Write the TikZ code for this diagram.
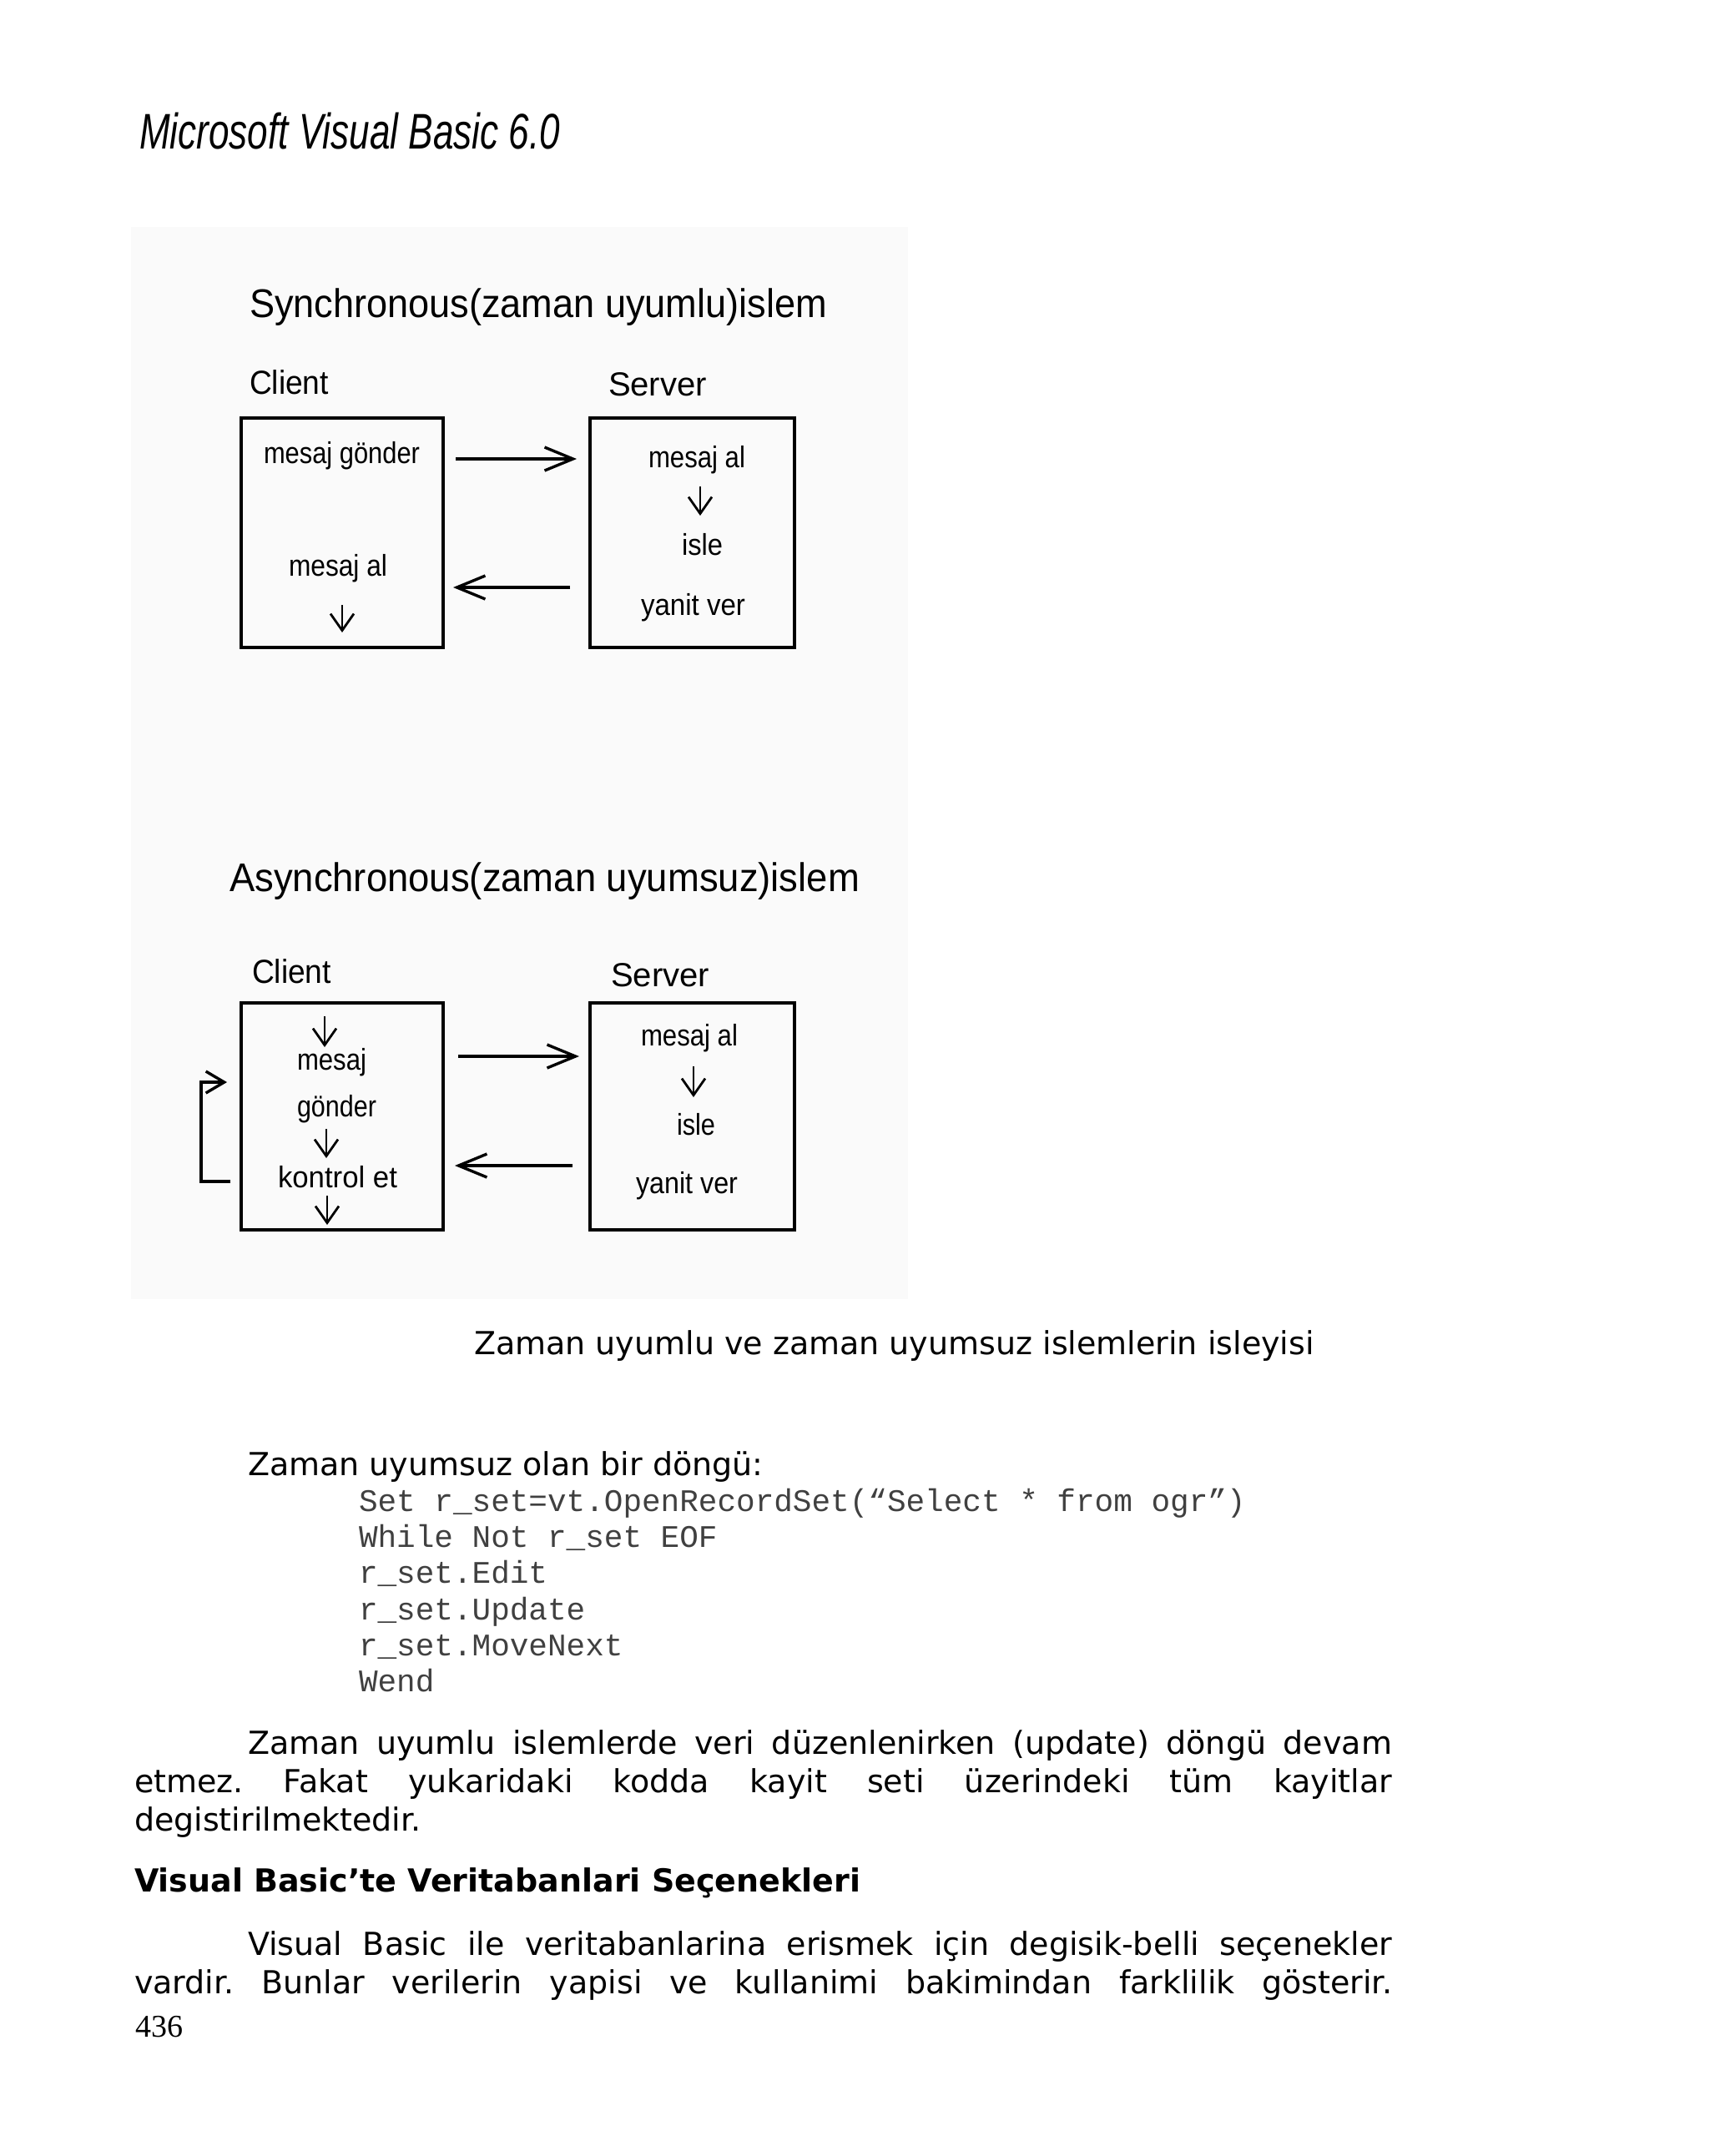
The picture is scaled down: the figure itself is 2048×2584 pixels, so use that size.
\documentclass[tikz,border=0pt]{standalone}
\usepackage{fontspec}
\usepackage{graphicx}
\usetikzlibrary{arrows.meta}
\setmainfont{DejaVu Sans}
\newfontfamily\diafont{Liberation Sans}
\newfontfamily\codefont{Liberation Mono}
\newfontfamily\numfont{Liberation Serif}
\newdimen\pxu \pxu=0.25pt
\newcommand\fitw[2]{\resizebox{#1\pxu}{\height}{#2}}
\frenchspacing
\begin{document}
\begin{tikzpicture}[x=0.25pt,y=-0.25pt,
  every node/.style={inner sep=0pt, outer sep=0pt, anchor=base west},
  hdr/.style={font=\diafont\itshape\fontsize{15pt}{16pt}\selectfont},
  dtitle/.style={font=\diafont\fontsize{12pt}{13pt}\selectfont},
  dlabel/.style={font=\diafont\fontsize{10pt}{11pt}\selectfont},
  dtext/.style={font=\diafont\fontsize{9pt}{10pt}\selectfont},
  body/.style={font=\fontsize{9.5pt}{11pt}\selectfont},
  bodyb/.style={font=\bfseries\fontsize{9.5pt}{11pt}\selectfont},
  code/.style={font=\codefont\fontsize{9.42pt}{11pt}\selectfont, text=black!75},
  pnum/.style={font=\numfont\fontsize{9.5pt}{11pt}\selectfont},
  procbox/.style={draw, line width=0.85pt, anchor=north west},
  harrow/.style={line width=0.85pt, -{Straight Barb[length=8.5pt,width=7pt]}},
  darrow/.style={line width=0.7pt, -{Straight Barb[length=5pt,width=7pt]}},
  larrow/.style={line width=0.85pt, -{Straight Barb[length=5.5pt,width=6.5pt]}},
]
\useasboundingbox (0,0) rectangle (2048,2584);
\fill[white] (0,0) rectangle (2048,2584);
% header
\node[hdr] (hdr) at (167,178) {\fitw{504}{Microsoft Visual Basic 6.0}};
% diagram background
\fill[black!2] (157,272) rectangle (1088,1557);

% ---------- synchronous ----------
\node[dtitle] (t1) at (299,380) {\fitw{692}{Synchronous(zaman uyumlu)islem}};
\node[dlabel] (cl1) at (299,472) {\fitw{95}{Client}};
\node[dlabel] (sv1) at (729,474) {\fitw{118}{Server}};
\node[procbox, minimum width=60.5pt, minimum height=68.75pt] (cb1) at (289,501) {};
\node[procbox, minimum width=61.25pt, minimum height=68.75pt] (sb1) at (707,501) {};
\node[dtext] (c1a) at (316,555) {\fitw{187}{mesaj gönder}};
\node[dtext] (c1b) at (346,690) {\fitw{118}{mesaj al}};
\node[dtext] (s1a) at (777,560) {\fitw{116}{mesaj al}};
\node[dtext] (s1b) at (817,665) {\fitw{49}{isle}};
\node[dtext] (s1c) at (768,737) {\fitw{125}{yanit ver}};
\coordinate (r1s) at (546,550); \coordinate (r1e) at (691,550);
\coordinate (l1s) at (683,704); \coordinate (l1e) at (543,704);
\draw[harrow] (r1s) -- (r1e);
\draw[harrow] (l1s) -- (l1e);
\coordinate (d1s) at (410,725); \coordinate (d1e) at (410,758);
\coordinate (d2s) at (839,583); \coordinate (d2e) at (839,618);
\draw[darrow] (d1s) -- (d1e);
\draw[darrow] (d2s) -- (d2e);

% ---------- asynchronous ----------
\node[dtitle] (t2) at (275,1068) {\fitw{755}{Asynchronous(zaman uyumsuz)islem}};
\node[dlabel] (cl2) at (302,1178) {\fitw{95}{Client}};
\node[dlabel] (sv2) at (732,1182) {\fitw{118}{Server}};
\node[procbox, minimum width=60.5pt, minimum height=68pt] (cb2) at (289,1202) {};
\node[procbox, minimum width=61.25pt, minimum height=68pt] (sb2) at (707,1202) {};
\node[dtext] (c2a) at (356,1282) {\fitw{83}{mesaj}};
\node[dtext] (c2b) at (356,1338) {\fitw{95}{gönder}};
\node[dtext] (c2c) at (333,1423) {\fitw{143}{kontrol et}};
\node[dtext] (s2a) at (768,1253) {\fitw{116}{mesaj al}};
\node[dtext] (s2b) at (811,1360) {\fitw{46}{isle}};
\node[dtext] (s2c) at (762,1430) {\fitw{122}{yanit ver}};
\coordinate (r2s) at (549,1266); \coordinate (r2e) at (694,1266);
\coordinate (l2s) at (686,1397); \coordinate (l2e) at (545,1397);
\draw[harrow] (r2s) -- (r2e);
\draw[harrow] (l2s) -- (l2e);
\coordinate (d3s) at (389,1218); \coordinate (d3e) at (389,1255);
\coordinate (d4s) at (391,1353); \coordinate (d4e) at (391,1388);
\coordinate (d5s) at (392,1433); \coordinate (d5e) at (392,1468);
\coordinate (d6s) at (831,1278); \coordinate (d6e) at (831,1315);
\draw[darrow] (d3s) -- (d3e);
\draw[darrow] (d4s) -- (d4e);
\draw[darrow] (d5s) -- (d5e);
\draw[darrow] (d6s) -- (d6e);
% loop
\coordinate (lps) at (276,1416);
\coordinate (lpc) at (241,1297);
\coordinate (lpe) at (272,1297);
\draw[larrow] (lps) -| (lpc) -- (lpe);

% ---------- text ----------
\node[body] (cap) at (568,1623) {Zaman uyumlu ve zaman uyumsuz islemlerin isleyisi};
\node[body] (lp) at (297,1768) {Zaman uyumsuz olan bir döngü:};
\node[code] (k1) at (430,1811) {Set r\_set=vt.OpenRecordSet(“Select * from ogr”)};
\node[code] (k2) at (430,1854) {While Not r\_set EOF};
\node[code] (k3) at (430,1897) {r\_set.Edit};
\node[code] (k4) at (430,1941) {r\_set.Update};
\node[code] (k5) at (430,1984) {r\_set.MoveNext};
\node[code] (k6) at (430,2027) {Wend};
\node[body] (p1a) at (297,2102) {\makebox[1371\pxu][s]{Zaman uyumlu islemlerde veri düzenlenirken (update) döngü devam}};
\node[body] (p1b) at (161,2148) {\makebox[1507\pxu][s]{etmez. Fakat yukaridaki kodda kayit seti üzerindeki tüm kayitlar}};
\node[body] (p1c) at (161,2194) {degistirilmektedir.};
\node[bodyb] (hd) at (161,2267) {Visual Basic’te Veritabanlari Seçenekleri};
\node[body] (p2a) at (297,2343) {\makebox[1371\pxu][s]{Visual Basic ile veritabanlarina erismek için degisik-belli seçenekler}};
\node[body] (p2b) at (161,2389) {\makebox[1507\pxu][s]{vardir. Bunlar verilerin yapisi ve kullanimi bakimindan farklilik gösterir.}};
\node[pnum] (pg) at (162,2441) {436};
\end{tikzpicture}
\end{document}
